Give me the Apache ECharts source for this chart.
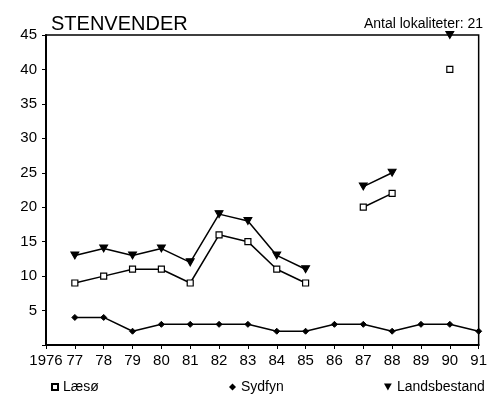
<!DOCTYPE html>
<html>
<head>
<meta charset="utf-8">
<script src="https://cdn.jsdelivr.net/npm/echarts@6/dist/echarts.min.js"></script>
<style>
  html, body { margin: 0; padding: 0; background: #fff; }
  #chart { width: 490px; height: 400px; }
</style>
</head>
<body>
<div id="chart"></div>
<script>
// data
const years = [1977, 1978, 1979, 1980, 1981, 1982, 1983, 1984, 1985, 1986, 1987, 1988, 1989, 1990, 1991];
const laeso = [9, 10, 11, 11, 9, 16, 15, 11, 9, null, 20, 22, null, 40, null];
const sydfyn = [4, 4, 2, 3, 3, 3, 3, 2, 2, 3, 3, 2, 3, 3, 2];
const landsbestand = [13, 14, 13, 14, 12, 19, 18, 13, 11, null, 23, 25, null, 45, null];
const yTicks = [5, 10, 15, 20, 25, 30, 35, 40, 45];

const pairs = vals => years.map((y, i) => [y, vals[i]]);
const font = 'Liberation Sans, Arial, sans-serif';
const downTriangle = 'path://M0,0 L10,0 L5,9 Z';

const chartDom = document.getElementById('chart');
if (typeof echarts !== 'undefined' && chartDom) {
    const chart = echarts.init(chartDom);
    const option = {
        animation: false,
        textStyle: { fontFamily: font, color: '#000' },
        title: [
            { text: 'STENVENDER', left: 46, top: 9,
              textStyle: { fontFamily: font, fontSize: 20, fontWeight: 'normal', color: '#000' } },
            { text: 'Antal lokaliteter: 21', right: 2, top: 12,
              textStyle: { fontFamily: font, fontSize: 14, fontWeight: 'normal', color: '#000' } }
        ],
        legend: [
            { data: [{ name: 'Læsø', icon: 'rect' }], left: 46, top: 375, itemWidth: 6, itemHeight: 6 },
            { data: [{ name: 'Sydfyn', icon: 'diamond' }], left: 224, top: 375, itemWidth: 7, itemHeight: 7 },
            { data: [{ name: 'Landsbestand', icon: downTriangle }], left: 379, top: 375, itemWidth: 8, itemHeight: 7 }
        ].map(l => Object.assign(l, {
            textStyle: { fontFamily: font, fontSize: 14, color: '#000' }
        })),
        grid: {
            left: 46, right: 3, top: 35, bottom: 55,
            show: true, borderColor: '#000', borderWidth: 1.5
        },
        xAxis: {
            type: 'value', min: 1976, max: 1991, interval: 1,
            axisLine: { lineStyle: { color: '#000', width: 2 } },
            axisTick: { show: true, length: 4, lineStyle: { color: '#000' } },
            splitLine: { show: false },
            axisLabel: {
                color: '#000', fontSize: 15, fontFamily: font, margin: 8,
                formatter: v => v === 1976 ? '1976' : String(v).slice(2)
            }
        },
        yAxis: {
            type: 'value', min: 0, max: 45, interval: 5,
            axisLine: { show: true, lineStyle: { color: '#000', width: 2 } },
            axisTick: { show: true, length: 4, lineStyle: { color: '#000' } },
            splitLine: { show: false },
            axisLabel: {
                color: '#000', fontSize: 15, fontFamily: font, margin: 9,
                formatter: v => yTicks.includes(v) ? String(v) : ''
            }
        },
        series: [
            {
                name: 'Læsø', type: 'line', data: pairs(laeso),
                symbol: 'rect', symbolSize: 6, showAllSymbol: true, clip: false,
                lineStyle: { color: '#000', width: 1.5 },
                itemStyle: { color: '#fff', borderColor: '#000', borderWidth: 1.2 }
            },
            {
                name: 'Sydfyn', type: 'line', data: pairs(sydfyn),
                symbol: 'diamond', symbolSize: 6, clip: false,
                lineStyle: { color: '#000', width: 1.5 },
                itemStyle: { color: '#000', borderColor: '#000' }
            },
            {
                name: 'Landsbestand', type: 'line', data: pairs(landsbestand),
                symbol: downTriangle, symbolSize: [8, 7], clip: false,
                lineStyle: { color: '#000', width: 1.5 },
                itemStyle: { color: '#000', borderColor: '#000' }
            }
        ]
    };
    chart.setOption(option);
} else {
    console.error('ECharts library not loaded.');
}
</script>
</body>
</html>
